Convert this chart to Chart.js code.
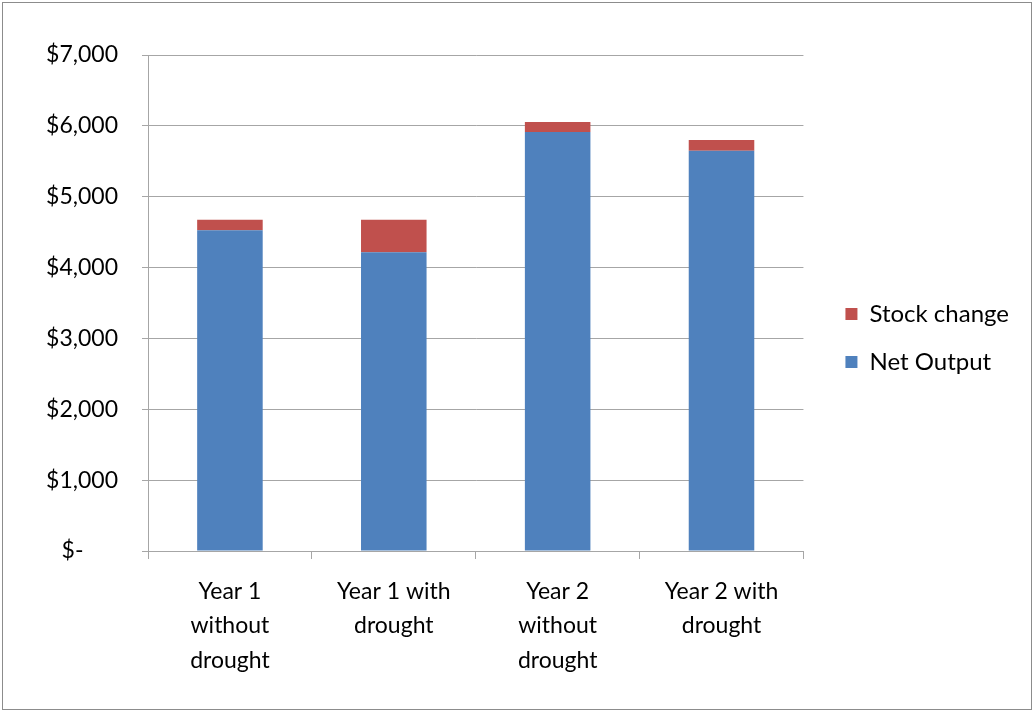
<!DOCTYPE html>
<html>
<head>
<meta charset="utf-8">
<script src="https://cdn.jsdelivr.net/npm/chart.js@4/dist/chart.umd.min.js"></script>
<style>
  html, body { margin: 0; padding: 0; background: #fff; }
  #frame {
    position: absolute; left: 2px; top: 2px;
    width: 1028px; height: 706px;
    border: 1px solid #8c8c8c; background: #fff;
  }
  #wrap { position: absolute; left: 0; top: 0; width: 1028px; height: 706px; }
</style>
</head>
<body>
<div id="frame"><div id="wrap"><canvas id="c"></canvas></div></div>
<script>
// Scenario categories (multi-line axis labels)
const categories = [
  ['Year 1', 'without', 'drought'],
  ['Year 1 with', 'drought'],
  ['Year 2', 'without', 'drought'],
  ['Year 2 with', 'drought']
];
// Dollar values per scenario
const netOutput   = [4525, 4215, 5915, 5650];
const stockChange = [150, 460, 140, 150];
// Value axis ticks
const yTicks = [0, 1000, 2000, 3000, 4000, 5000, 6000, 7000];

const FONT = 'Lato, "Open Sans", sans-serif';
const gridColor = '#a6a6a6';

function dollar(v) {
  return v === 0 ? '$-\u2002\u2002\u2002' : '$' + v.toLocaleString('en-US');
}

// Nudge the legend block: a bit right of the plot and above the vertical middle
const legendNudge = {
  id: 'legendNudge',
  afterLayout(chart) {
    const lg = chart.legend;
    if (!lg) return;
    const dx = 18, dy = -34;
    lg.left += dx; lg.right += dx;
    lg.top += dy; lg.bottom += dy;
  }
};

new Chart(document.getElementById('c'), {
  type: 'bar',
  data: {
    labels: categories,
    datasets: [
      { label: 'Net Output', data: netOutput, backgroundColor: '#4f81bd' },
      { label: 'Stock change', data: stockChange, backgroundColor: '#c0504d' }
    ]
  },
  plugins: [legendNudge],
  options: {
    responsive: true,
    maintainAspectRatio: false,
    animation: false,
    datasets: { bar: { categoryPercentage: 0.8, barPercentage: 0.5 } },
    layout: { padding: { left: 0, right: 30, top: 52, bottom: 20 } },
    plugins: {
      tooltip: { enabled: false },
      legend: {
        position: 'right',
        reverse: true,
        labels: {
          boxWidth: 12, boxHeight: 12, padding: 24,
          color: '#000',
          font: { family: FONT, size: 24 }
        }
      }
    },
    scales: {
      x: {
        stacked: true,
        afterFit: s => { s.height = 138; },
        grid: { offset: true, drawOnChartArea: false, drawTicks: true, tickLength: 8, color: gridColor },
        border: { display: true, color: gridColor },
        ticks: {
          color: '#000', padding: 16, maxRotation: 0, autoSkip: false,
          font: { family: FONT, size: 23, lineHeight: 1.48 }
        }
      },
      y: {
        stacked: true,
        min: 0, max: 7000,
        afterBuildTicks: s => { s.ticks = yTicks.map(v => ({ value: v })); },
        afterFit: s => { s.width = 145; },
        grid: { color: gridColor, tickLength: 6, drawTicks: true },
        border: { display: true, color: gridColor },
        ticks: {
          color: '#000', padding: 24,
          font: { family: FONT, size: 23 },
          callback: v => dollar(v)
        }
      }
    }
  }
});
</script>
</body>
</html>
